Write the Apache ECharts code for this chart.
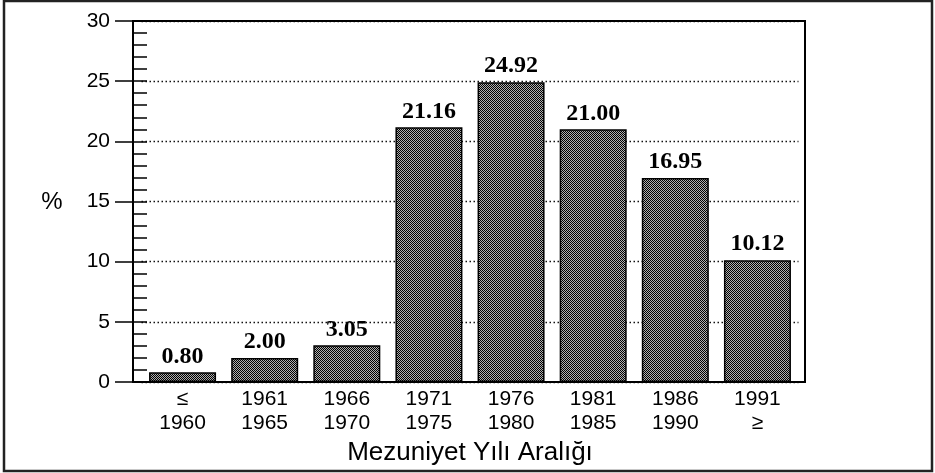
<!DOCTYPE html>
<html>
<head>
<meta charset="utf-8">
<script src="https://cdn.jsdelivr.net/npm/echarts@6/dist/echarts.min.js"></script>
<style>html,body{margin:0;padding:0;background:#fff}#c{width:935px;height:473px}</style>
</head>
<body>
<div id="c"></div>
<script>
const categories = ['≤\n1960', '1961\n1965', '1966\n1970', '1971\n1975', '1976\n1980', '1981\n1985', '1986\n1990', '1991\n≥'];
const values = [0.80, 2.00, 3.05, 21.16, 24.92, 21.00, 16.95, 10.12];
const yTicks = { min: 0, max: 30, interval: 5 };
const xTitle = 'Mezuniyet Yılı Aralığı';
const yTitle = '%';

// halftone-like pattern for bars
const pc = document.createElement('canvas');
pc.width = 4; pc.height = 4;
const pctx = pc.getContext('2d');
for (let i = 0; i < 4; i++) for (let j = 0; j < 4; j++) {
  pctx.fillStyle = ((i + j) % 2 === 0) ? '#000' : '#b0b0b0';
  pctx.fillRect(i, j, 1, 1);
}

const chart = echarts.init(document.getElementById('c'), null, { renderer: 'canvas' });
const sans = "'Liberation Sans', Arial, sans-serif";
chart.setOption({
  animation: false,
  backgroundColor: '#fff',
  grid: { left: 141.5, right: 136.5, top: 21, bottom: 91, containLabel: false },
  xAxis: {
    type: 'category',
    data: categories,
    boundaryGap: true,
    name: xTitle,
    nameLocation: 'middle',
    nameGap: 57,
    nameTextStyle: { fontFamily: sans, fontSize: 26, color: '#000' },
    axisLine: { show: true, lineStyle: { color: '#000', width: 2 } },
    axisTick: { show: false },
    axisLabel: { fontFamily: sans, fontSize: 21, lineHeight: 24, color: '#000', margin: 5, interval: 0 }
  },
  yAxis: [{
    type: 'value',
    min: yTicks.min, max: yTicks.max, interval: yTicks.interval,
    offset: 8.5,
    axisLine: { show: true, lineStyle: { color: '#000', width: 2 } },
    axisTick: { show: true, inside: false, length: 18, lineStyle: { color: '#000', width: 1.5 } },
    axisLabel: { fontFamily: sans, fontSize: 21, color: '#000', margin: 23 },
    splitLine: { show: true, lineStyle: { color: '#111', width: 1.3, type: [1.5, 2.5] } }
  }, {
    type: 'value',
    position: 'left',
    min: yTicks.min, max: yTicks.max, interval: yTicks.interval,
    offset: 8.5,
    axisLine: { show: false },
    axisTick: { show: true, inside: true, length: 14, lineStyle: { color: '#000', width: 1.5 } },
    minorTick: { show: true, splitNumber: 5, length: 14, lineStyle: { color: '#000', width: 1.5 } },
    axisLabel: { show: false },
    splitLine: { show: false }
  }],
  series: [{
    type: 'bar',
    data: values,
    barWidth: 67,
    itemStyle: {
      color: { image: pc, repeat: 'repeat' },
      borderColor: '#000',
      borderWidth: 1.5
    },
    label: {
      show: true,
      position: 'top',
      distance: 4,
      formatter: p => p.value.toFixed(2),
      fontFamily: "'Liberation Serif', 'Times New Roman', serif",
      fontWeight: 'bold',
      fontSize: 24,
      color: '#000'
    }
  }],
  graphic: [
    { type: 'rect', shape: { x: 4, y: 1, width: 928, height: 470 }, style: { fill: null, stroke: '#222', lineWidth: 2.5 }, silent: true },
    { type: 'rect', shape: { x: 133, y: 21, width: 672, height: 361 }, style: { fill: null, stroke: '#000', lineWidth: 2 }, silent: true, z: 10 },
    { type: 'text', x: 52, y: 202, style: { text: yTitle, fontFamily: sans, fontSize: 24, fill: '#000', align: 'center', verticalAlign: 'middle' } }
  ]
});
</script>
</body>
</html>
